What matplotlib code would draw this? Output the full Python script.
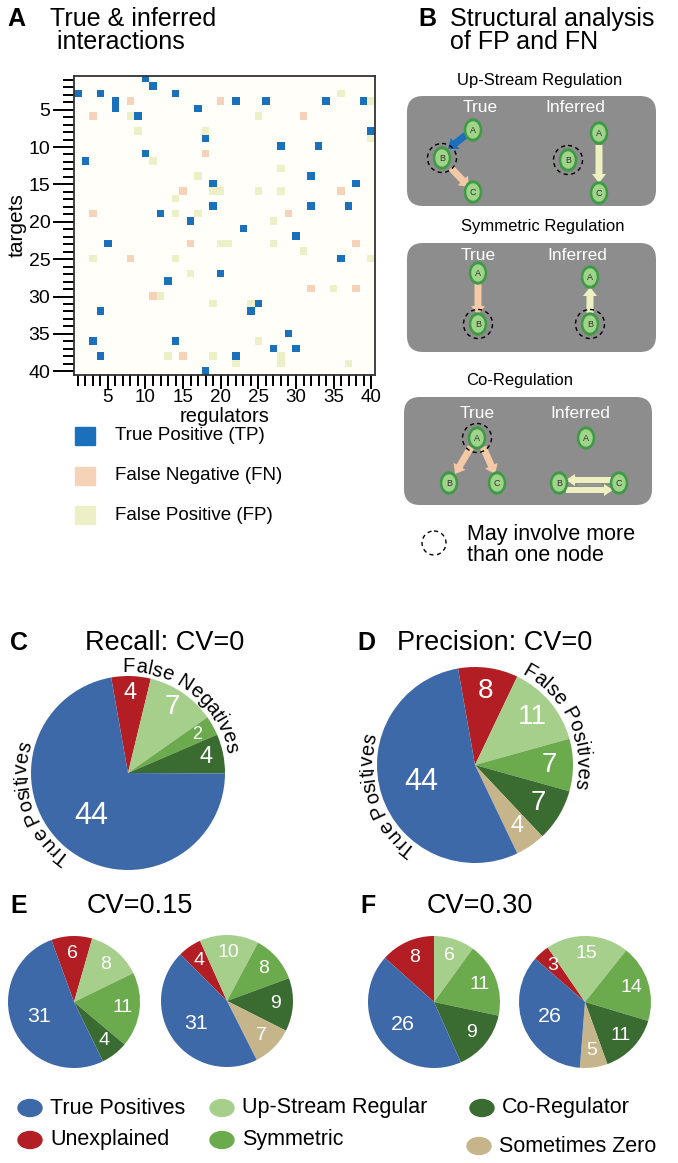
import numpy as np
import matplotlib
matplotlib.use('Agg')
import matplotlib.pyplot as plt
from matplotlib.patches import Rectangle, FancyBboxPatch, Ellipse, Circle, FancyArrow
from matplotlib.colors import ListedColormap
from matplotlib.font_manager import FontProperties, findfont, get_font

plt.rcParams['font.family'] = ['Liberation Sans', 'DejaVu Sans']

# ---- panel A data: (regulator column, target row) of each coloured cell ----
tp_cols = [1, 4, 10, 11, 14, 6, 6, 9, 17, 18, 10, 2, 19, 19, 12, 16, 22, 26, 34, 39, 40, 28,
           33, 32, 38, 32, 37, 23, 5, 20, 13, 4, 3, 14, 4, 18, 30, 36, 25, 24, 29, 27, 30, 22]
tp_rows = [3, 3, 1, 2, 3, 4, 5, 6, 5, 9, 11, 12, 15, 18, 19, 20, 4, 4, 4, 4, 8, 10,
           10, 14, 15, 18, 18, 21, 23, 27, 28, 32, 36, 36, 38, 40, 22, 25, 31, 32, 35, 37, 37, 38]
fn_cols = [8, 20, 3, 18, 15, 3, 31, 36, 29, 16, 8, 11, 15, 38, 32, 38]
fn_rows = [4, 4, 6, 11, 16, 19, 6, 16, 19, 23, 25, 30, 38, 23, 29, 29]
fp_cols = [8, 9, 18, 11, 17, 19, 20, 14, 14, 17, 36, 40, 25, 40, 28, 25, 28, 27, 20, 21,
           3, 14, 16, 12, 19, 13, 19, 27, 31, 40, 35, 24, 25, 22, 28, 28, 37]
fp_rows = [6, 8, 8, 12, 14, 16, 16, 17, 19, 19, 3, 4, 6, 9, 13, 16, 16, 20, 23, 23,
           25, 25, 27, 30, 31, 38, 38, 23, 24, 25, 29, 31, 36, 39, 38, 39, 39]
axis_ticks = [5, 10, 15, 20, 25, 30, 35, 40]
a_legend = ['True Positive (TP)', 'False Negative (FN)', 'False Positive (FP)']

# ---- pie data ----
pie_cats = ['True Positives', 'Unexplained', 'Up-Stream Regular', 'Symmetric',
            'Co-Regulator', 'Sometimes Zero']
recall_cv0 = [44, 4, 7, 2, 4, 0]
precision_cv0 = [44, 8, 11, 7, 7, 4]
recall_cv15 = [31, 6, 8, 11, 4, 0]
precision_cv15 = [31, 4, 10, 8, 9, 7]
recall_cv30 = [26, 8, 6, 11, 9, 0]
precision_cv30 = [26, 3, 15, 14, 11, 5]

c_tp, c_fn, c_fp, c_bg = '#1b70bb', '#f6d3b8', '#edf0c6', '#fffef9'
pie_colors = ['#3e69a8', '#b31e24', '#a6cf8c', '#6bab4e', '#3a6c31', '#c6b58b']
order = [1, 2, 3, 4, 5, 0]   # clockwise order of slices

W, H = 678, 1163
DPI = 100
fig = plt.figure(figsize=(W / DPI, H / DPI), dpi=DPI)


def fbox(l, t, w, h):
    return [l / W, 1 - (t + h) / H, w / W, h / H]


# overlay axes in pixel coordinates for drawings, titles and legends
ov = fig.add_axes([0, 0, 1, 1])
ov.set_xlim(0, W)
ov.set_ylim(H, 0)
ov.axis('off')

# ================= Panel A =================
ov.text(7, 7, 'A', fontsize=18, fontweight='bold', va='top')
ov.text(50, 7, 'True & inferred\n interactions', fontsize=18, linespacing=0.95, va='top')

grid = np.zeros((40, 40), dtype=int)
for c, r in zip(tp_cols, tp_rows):
    grid[r - 1, c - 1] = 1
for c, r in zip(fn_cols, fn_rows):
    grid[r - 1, c - 1] = 2
for c, r in zip(fp_cols, fp_rows):
    grid[r - 1, c - 1] = 3

axA = fig.add_axes(fbox(74, 76, 301, 299))
axA.imshow(grid, cmap=ListedColormap([c_bg, c_tp, c_fn, c_fp]), vmin=0, vmax=3,
           extent=(0.5, 40.5, 40.5, 0.5), interpolation='nearest', aspect='auto')
axA.set_xticks(axis_ticks)
axA.set_yticks(axis_ticks)
axA.set_xticks(range(1, 41), minor=True)
axA.set_yticks(range(1, 41), minor=True)
axA.tick_params(axis='x', which='major', length=10, width=1.4, labelsize=13.5, pad=0)
axA.tick_params(axis='x', which='minor', length=8, width=1.4)
axA.tick_params(axis='y', which='major', length=15, width=1.4, labelsize=14, pad=2)
axA.tick_params(axis='y', which='minor', length=8, width=1.4)
for s in axA.spines.values():
    s.set_linewidth(1.3)
    s.set_color('#333333')
axA.set_xlabel('regulators', fontsize=14.5, labelpad=0.5)
axA.set_ylabel('targets', fontsize=15, labelpad=1)

for i, (lab, col) in enumerate(zip(a_legend, [c_tp, c_fn, c_fp])):
    y = 436 + i * 39.5
    ov.add_patch(Rectangle((75, y - 9), 20, 18, color=col))
    ov.text(115, y, lab, fontsize=13.5, va='center')

# ================= Panel B =================
ov.text(418, 7, 'B', fontsize=18, fontweight='bold', va='top')
ov.text(450, 7, 'Structural analysis\nof FP and FN', fontsize=18, linespacing=0.95, va='top')

box_gray = '#8d8d8d'
c_arrow_blue, c_arrow_peach, c_arrow_yel = '#1c6fba', '#f4c9a6', '#eef0bf'


def node(x, y, letter):
    ov.add_patch(Ellipse((x, y), 17, 22, color='#3f9a45', zorder=4))
    ov.add_patch(Ellipse((x, y), 12, 16, color='#9fd48a', zorder=5))
    ov.text(x, y + 0.5, letter, fontsize=6.5, ha='center', va='center', color='#333333', zorder=6)


def ring(x, y):
    ov.add_patch(Circle((x, y), 14.5, fill=False, ec='black', lw=1.0,
                        linestyle=(0, (3, 2.5)), zorder=7))


def arrow(x0, y0, x1, y1, col, w=7, hw=14):
    ov.add_patch(FancyArrow(x0, y0, x1 - x0, y1 - y0, width=w, head_width=hw, head_length=9,
                            length_includes_head=True, color=col, lw=0, zorder=3))


def panel_box(x0, y0, x1, y1, title, tx, ty):
    ov.add_patch(FancyBboxPatch((x0, y0), x1 - x0, y1 - y0,
                                boxstyle='round,pad=0,rounding_size=16',
                                fc=box_gray, ec='none', zorder=1))
    ov.text(tx, ty, title, fontsize=12, ha='center', va='center')


def tags(y, xt, xi):
    ov.text(xt, y, 'True', fontsize=12.5, color='white', ha='center', va='center', zorder=2)
    ov.text(xi, y, 'Inferred', fontsize=12.5, color='white', ha='center', va='center', zorder=2)


# Up-stream regulation
panel_box(407, 96, 656, 206, 'Up-Stream Regulation', 540, 80)
tags(108, 480, 575)
arrow(466, 135, 448, 149, c_arrow_blue)
arrow(451, 168, 469, 187, c_arrow_peach)
arrow(599, 145, 599, 183, c_arrow_yel)
node(473, 130, 'A'); node(442, 158, 'B'); node(473, 192, 'C')
node(599, 133, 'A'); node(568, 160, 'B'); node(599, 193, 'C')
ring(442, 158); ring(568, 160)

# Symmetric regulation
panel_box(407, 243, 656, 352, 'Symmetric Regulation', 543, 227)
tags(256, 478, 577)
arrow(478, 284, 478, 315, c_arrow_peach)
arrow(590, 313, 590, 287, c_arrow_yel)
node(478, 273, 'A'); node(478, 324, 'B')
node(590, 277, 'A'); node(590, 324, 'B')
ring(478, 324); ring(590, 324)

# Co-regulation
panel_box(404, 397, 652, 505, 'Co-Regulation', 520, 380)
tags(414, 477, 580)
arrow(471, 447, 455, 474, c_arrow_peach)
arrow(483, 447, 495, 474, c_arrow_peach)
arrow(613, 480, 566, 480, c_arrow_yel, w=6, hw=12)
arrow(566, 490, 613, 490, c_arrow_yel, w=6, hw=12)
ov.plot([578, 601], [485, 485], color='#9a9a9a', lw=1.5, zorder=3.5)
node(477, 438, 'A'); node(449, 483, 'B'); node(497, 483, 'C')
node(586, 438, 'A'); node(559, 483, 'B'); node(619, 483, 'C')
ring(477, 438)

ov.add_patch(Circle((434, 543), 12, fill=False, ec='black', lw=1.0, linestyle=(0, (3, 2.5))))
ov.text(467, 545, 'May involve more\nthan one node', fontsize=15.5, va='center', linespacing=0.95)

# ================= Pies =================


def curved_text(ax, text, mid_deg, radius, r_px, fs):
    font = get_font(findfont(FontProperties(family='Liberation Sans')))
    font.set_size(fs, DPI)
    adv = [font.load_char(ord(ch)).linearHoriAdvance / 65536 for ch in text]
    R = radius * r_px
    ang = mid_deg + np.degrees(sum(adv) / R) / 2
    for ch, a in zip(text, adv):
        half = np.degrees(a / 2 / R)
        ang -= half
        t = np.radians(ang)
        ax.text(radius * np.cos(t), radius * np.sin(t), ch, fontsize=fs,
                rotation=ang - 90, rotation_mode='anchor', ha='center', va='baseline')
        ang -= half


def draw_pie(vals, cx, cy, r, start, base_fs, other_frac, curved=()):
    pad = 1.4
    s = r * pad
    ax = fig.add_axes(fbox(cx - s, cy - s, 2 * s, 2 * s))
    v = [vals[i] for i in order]
    cols = [pie_colors[i] for i in order]
    wedges, _ = ax.pie(v, colors=cols, startangle=start, counterclock=False,
                       radius=1, wedgeprops=dict(linewidth=0))
    ax.set_xlim(-pad, pad)
    ax.set_ylim(-pad, pad)
    ax.axis('off')
    for w, val, idx in zip(wedges, v, order):
        if val == 0:
            continue
        mid = np.radians((w.theta1 + w.theta2) / 2)
        frac = 0.58 if idx == 0 else other_frac
        fs = base_fs * 1.1 if idx == 0 else base_fs
        if base_fs > 16 and val <= 2:
            fs = base_fs * 0.65
        elif base_fs > 16 and val <= 4 and idx != 0:
            fs = base_fs * 0.85
        ax.text(frac * np.cos(mid), frac * np.sin(mid), str(val), color='white',
                fontsize=fs, ha='center', va='center')
    for txt, mid in curved:
        curved_text(ax, txt, mid, 1.04, r, 14.5)
    return ax


ov.text(10, 643, 'C', fontsize=18, fontweight='bold', va='center')
ov.text(165, 643, 'Recall: CV=0', fontsize=19.5, ha='center', va='center')
ov.text(357, 643, 'D', fontsize=18, fontweight='bold', va='center')
ov.text(495, 643, 'Precision: CV=0', fontsize=19.5, ha='center', va='center')

draw_pie(recall_cv0, 128, 773, 97, 100, 20, 0.82,
         curved=[('True Positives', 199), ('False Negatives', 52)])
draw_pie(precision_cv0, 475, 765, 98, 100, 20, 0.76,
         curved=[('True Positives', 199), ('False Positives', 25)])

ov.text(10, 906, 'E', fontsize=18, fontweight='bold', va='center')
ov.text(140, 906, 'CV=0.15', fontsize=19.5, ha='center', va='center')
ov.text(360, 906, 'F', fontsize=18, fontweight='bold', va='center')
ov.text(480, 906, 'CV=0.30', fontsize=19.5, ha='center', va='center')

draw_pie(recall_cv15, 74, 1002, 66, 110, 14, 0.74)
draw_pie(precision_cv15, 227, 1001, 66, 135, 14, 0.74)
draw_pie(recall_cv30, 434, 1002, 66, 138, 14, 0.74)
draw_pie(precision_cv30, 585, 1002, 66, 139, 14, 0.74)

# legend
leg_pos = [(30, 1108), (30, 1140), (222, 1108), (222, 1140), (482, 1108), (479, 1146)]
for (x, y), lab, col in zip(leg_pos, pie_cats, pie_colors):
    ov.add_patch(Ellipse((x, y), 24, 17, color=col))
    ov.text(x + 20, y, lab, fontsize=15.5, va='center')

fig.savefig('out.png', dpi=DPI)
